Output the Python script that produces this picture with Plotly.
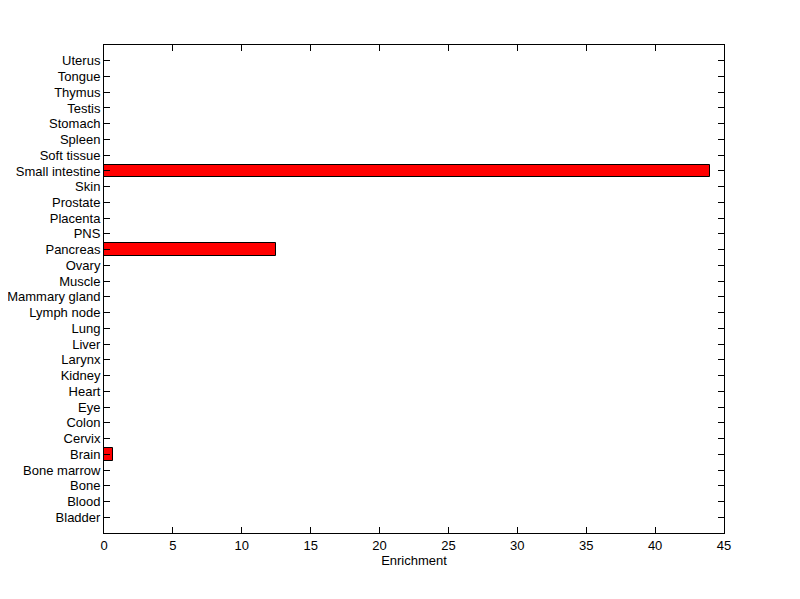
import plotly.graph_objects as go

# tissues, bottom to top
tissues = ['Bladder', 'Blood', 'Bone', 'Bone marrow', 'Brain', 'Cervix', 'Colon',
           'Eye', 'Heart', 'Kidney', 'Larynx', 'Liver', 'Lung', 'Lymph node',
           'Mammary gland', 'Muscle', 'Ovary', 'Pancreas', 'PNS', 'Placenta',
           'Prostate', 'Skin', 'Small intestine', 'Soft tissue', 'Spleen',
           'Stomach', 'Testis', 'Thymus', 'Tongue', 'Uterus']
enrichment = [0, 0, 0, 0, 0.65, 0, 0,
              0, 0, 0, 0, 0, 0, 0,
              0, 0, 0, 12.5, 0, 0,
              0, 0, 44.0, 0, 0,
              0, 0, 0, 0, 0]
x_ticks = [0, 5, 10, 15, 20, 25, 30, 35, 40, 45]

# page body has an 8px default margin, so margins are shifted to compensate
fig = go.Figure(
    data=go.Bar(
        x=enrichment,
        y=list(range(len(tissues))),
        orientation='h',
        width=0.8,
        marker=dict(color='#ff0000', line=dict(color='black', width=1)),
    ),
    layout=go.Layout(
        width=800,
        height=599,
        margin=dict(l=96, r=84, t=37, b=74),
        paper_bgcolor='white',
        plot_bgcolor='white',
        font=dict(family='Liberation Sans, Arial, sans-serif', size=13, color='black'),
        showlegend=False,
        bargap=0,
        xaxis=dict(
            range=[0, 45],
            tickvals=x_ticks,
            ticks='inside',
            ticklen=6,
            tickcolor='black',
            showline=True,
            linecolor='black',
            linewidth=1,
            mirror='ticks',
            showgrid=False,
            zeroline=False,
            automargin=False,
            title=dict(text='Enrichment', standoff=4, font=dict(size=13)),
        ),
        yaxis=dict(
            range=[-1, 30],
            tickvals=list(range(len(tissues))),
            ticktext=tissues,
            ticks='inside',
            ticklen=6,
            tickcolor='black',
            showline=True,
            linecolor='black',
            linewidth=1,
            mirror='ticks',
            showgrid=False,
            zeroline=False,
            automargin=False,
        ),
    )
)

fig.write_html("out.html")
